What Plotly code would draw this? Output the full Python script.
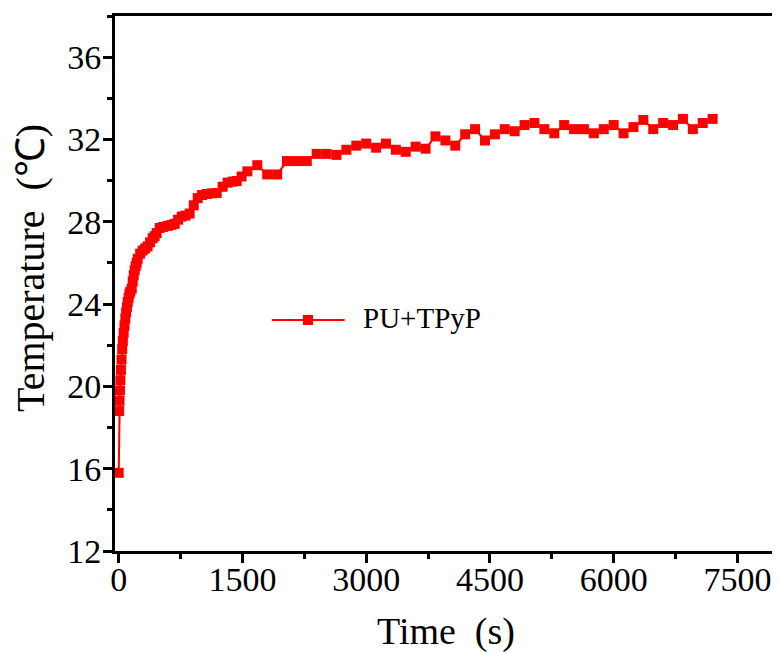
import plotly.graph_objects as go

series_name = "PU+TPyP"

time_s = [0, 5, 10, 15, 20, 27, 34, 42, 50, 60, 70, 80, 90, 100, 110, 120, 130,
          140, 158, 170, 182, 194, 206, 218, 230, 260, 290, 320, 350, 380, 412,
          436, 460, 497, 540, 594, 640, 679, 720, 764, 810, 860, 910, 958, 1010,
          1067, 1130, 1188, 1260, 1321, 1380, 1430, 1490, 1560, 1680, 1800,
          1920, 2040, 2160, 2280, 2400, 2520, 2640, 2760, 2880, 3000, 3120,
          3240, 3360, 3480, 3600, 3720, 3840, 3960, 4080, 4200, 4320, 4440,
          4560, 4680, 4800, 4920, 5040, 5160, 5280, 5400, 5520, 5640, 5760,
          5880, 6000, 6120, 6240, 6360, 6480, 6600, 6720, 6840, 6960, 7080, 7200]

temperature_c = [15.8, 18.8, 19.3, 19.8, 20.3, 20.8, 21.3, 21.8, 22.2, 22.6,
                 22.95, 23.3, 23.6, 23.85, 24.1, 24.3, 24.5, 24.6, 24.75, 25.1,
                 25.4, 25.65, 25.85, 26.0, 26.2, 26.45, 26.6, 26.7, 26.8, 27.0,
                 27.2, 27.3, 27.45, 27.7, 27.75, 27.8, 27.85, 27.9, 28.1, 28.25,
                 28.3, 28.4, 28.8, 29.15, 29.3, 29.35, 29.38, 29.4, 29.7, 29.9,
                 29.95, 29.98, 30.2, 30.45, 30.75, 30.3, 30.3, 30.95, 30.95,
                 30.95, 31.3, 31.3, 31.25, 31.5, 31.7, 31.8, 31.6, 31.8, 31.5,
                 31.4, 31.65, 31.55, 32.15, 31.95, 31.7, 32.25, 32.5, 31.95,
                 32.25, 32.5, 32.4, 32.7, 32.8, 32.5, 32.3, 32.7, 32.5, 32.5,
                 32.3, 32.5, 32.7, 32.3, 32.6, 32.95, 32.5, 32.8, 32.7, 33.0,
                 32.5, 32.8, 33.0]

x_ticks = [0, 1500, 3000, 4500, 6000, 7500]
y_ticks = [12, 16, 20, 24, 28, 32, 36]

SERIF = "Liberation Serif, Times New Roman, serif"
RED = "#ff0000"
NB = "\u00a0"

fig = go.Figure()
fig.add_trace(go.Scatter(
    x=time_s, y=temperature_c, mode="lines+markers", name=series_name,
    line=dict(color=RED, width=2),
    marker=dict(symbol="square", size=10, color=RED, line=dict(width=0)),
    showlegend=False,
))

axis_common = dict(
    showline=True, linecolor="black", linewidth=3, mirror=True,
    ticks="outside", ticklen=9, tickwidth=2.5, tickcolor="black",
    showgrid=False, zeroline=False, automargin=False,
    tickfont=dict(family=SERIF, size=34, color="black"),
)

fig.update_xaxes(
    range=[-45, 7980], tickvals=x_ticks, ticktext=[str(v) for v in x_ticks],
    ticklabelstandoff=-13,
    minor=dict(dtick=750, tick0=0, ticks="outside", ticklen=5, tickwidth=2.5,
               tickcolor="black"),
    title=dict(text="Time" + NB * 2 + "(s)",
               font=dict(family=SERIF, size=38, color="black"), standoff=21),
    **axis_common,
)
fig.update_yaxes(
    range=[12, 38], tickvals=y_ticks, ticktext=[str(v) for v in y_ticks],
    ticklabelstandoff=-5,
    minor=dict(dtick=2, tick0=12, ticks="outside", ticklen=5, tickwidth=2.5,
               tickcolor="black"),
    title=dict(text="<span style='color:rgba(0,0,0,0)'>nl</span>Temperature"
                    + NB * 2 + "(\u2103)",
               font=dict(family=SERIF, size=40, color="black"), standoff=14),
    **axis_common,
)

# Legend drawn inside the plot area (paper coordinates)
leg_y = 0.4318
fig.add_shape(type="line", xref="paper", yref="paper",
              x0=0.237, x1=0.347, y0=leg_y, y1=leg_y,
              line=dict(color=RED, width=2))
fig.add_shape(type="rect", xref="paper", yref="paper",
              x0=0.2915 - 0.0076, x1=0.2915 + 0.0076,
              y0=leg_y - 0.0094, y1=leg_y + 0.0094,
              line=dict(width=0), fillcolor=RED)
fig.add_annotation(xref="paper", yref="paper", x=0.3716, y=leg_y + 0.004,
                   xanchor="left", yanchor="middle", showarrow=False,
                   text=series_name,
                   font=dict(family=SERIF, size=29, color="black"))

# The page body adds an 8 px offset, so the figure is sized to fit the window.
fig.update_layout(
    width=772, height=645,
    margin=dict(l=107, r=3, t=8, b=102),
    paper_bgcolor="white", plot_bgcolor="white",
    showlegend=False,
)

fig.write_html("out.html")
